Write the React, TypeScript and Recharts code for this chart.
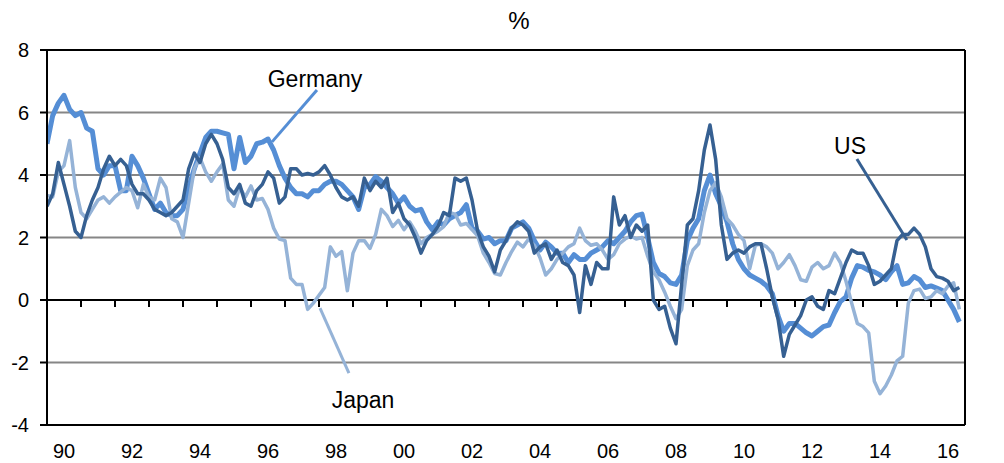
import { Line, LineChart, ReferenceLine, XAxis, YAxis } from 'recharts';

const FONT = '"Liberation Sans", Arial, sans-serif';
const US_COLOR = '#366092';
const GERMANY_COLOR = '#558ED5';
const JAPAN_COLOR = '#95B3D7';

// bimonthly readings, Jan 1990 .. Nov 2016
const startYear = 1990;
const endYear = 2017;
const pointsPerYear = 6;

const usRate = [
  3.0, 3.4, 4.4, 3.7, 3.0, 2.2,
  2.0, 2.7, 3.2, 3.6, 4.2, 4.6,
  4.3, 4.5, 4.3, 3.7, 3.4, 3.4,
  3.2, 2.9, 2.8, 2.7, 2.8, 3.0,
  3.2, 4.2, 4.7, 4.4, 5.0, 5.3,
  5.0, 4.5, 3.6, 3.4, 3.7, 3.1,
  3.0, 3.5, 3.7, 4.1, 3.9, 3.1,
  3.3, 4.2, 4.2, 4.0, 4.05, 4.0,
  4.1, 4.3, 4.0, 3.6, 3.3, 3.2,
  3.3, 3.0, 3.9, 3.5, 3.8, 3.6,
  3.9, 2.8, 3.1, 2.6, 2.4, 2.0,
  1.5, 1.9, 2.1, 2.35, 2.8, 2.7,
  3.9, 3.8, 3.9, 3.2, 2.2, 1.7,
  1.4, 0.9, 1.6, 1.9, 2.3, 2.5,
  2.4, 2.2, 1.5, 1.7, 1.8, 1.3,
  1.6, 1.2, 1.1, 0.8, -0.4, 1.1,
  0.5, 1.2, 1.0, 1.0, 3.3, 2.4,
  2.7, 2.0, 2.4, 2.2, 2.4, 0.0,
  -0.3, -0.2, -0.9, -1.4, 0.5, 2.4,
  2.6, 3.5, 4.8, 5.6, 4.5, 2.4,
  1.3, 1.5, 1.6, 1.5, 1.7, 1.8,
  1.8, 1.0, 0.1, -0.6, -1.8, -1.1,
  -0.8, -0.5, 0.0, 0.1, -0.2, -0.3,
  0.3, 0.2, 0.7, 1.2, 1.6, 1.5,
  1.5, 1.1, 0.5, 0.6, 0.8, 1.0,
  1.9, 2.1, 2.1, 2.3, 2.1, 1.7,
  1.0, 0.75, 0.7, 0.6, 0.3, 0.4,
];

const germanyRate = [
  5.0, 5.9, 6.3, 6.55, 6.1, 5.9,
  6.0, 5.5, 5.4, 4.2, 4.0, 4.3,
  4.3, 3.5, 3.5, 4.6, 4.3, 3.9,
  3.4, 2.9, 3.1, 2.8, 2.7, 2.7,
  2.9, 3.6, 4.2, 4.7, 5.2, 5.4,
  5.4, 5.35, 5.3, 4.2, 5.2, 4.4,
  4.6, 5.0, 5.05, 5.15, 4.8, 4.3,
  3.9, 3.6, 3.4, 3.4, 3.3, 3.5,
  3.5, 3.7, 3.8, 3.8, 3.7, 3.5,
  3.3, 2.9, 3.6, 3.7, 3.95, 3.8,
  3.6, 3.4, 3.1, 3.3, 3.0, 2.85,
  2.9, 2.5, 2.25, 2.5, 2.4, 2.6,
  2.7, 2.8, 3.05, 2.3, 2.2, 1.95,
  2.0, 1.8, 1.9, 1.9, 2.3, 2.4,
  2.5, 2.3, 1.9, 1.6, 1.85, 1.7,
  1.5, 1.5, 1.2, 1.45, 1.3, 1.3,
  1.5, 1.6, 1.7, 1.9, 1.8, 2.0,
  2.2, 2.5, 2.7, 2.75, 2.0, 1.2,
  0.85, 0.75, 0.55, 0.5, 0.8, 1.9,
  2.3, 2.6, 3.5, 4.0, 3.4, 3.0,
  2.5, 1.8, 1.3, 1.0, 0.8, 0.7,
  0.6, 0.45, 0.2, -0.5, -1.0, -0.75,
  -0.75, -0.9, -1.05, -1.15, -1.0, -0.85,
  -0.8, -0.4, -0.05, 0.1, 0.7, 1.1,
  1.05, 0.95, 0.9, 0.8, 0.65, 0.9,
  1.1, 0.5, 0.55, 0.75, 0.65, 0.4,
  0.45, 0.38, 0.3, 0.0, -0.3, -0.7,
];

const japanRate = [
  3.35, 3.3, 4.1, 4.3, 5.1, 3.6,
  2.8, 2.6, 2.9, 3.2, 3.3, 3.1,
  3.3, 3.45, 3.6, 3.5, 2.95, 3.7,
  3.3, 3.2, 3.9, 3.6, 2.6, 2.5,
  2.0, 3.1, 4.2, 4.55, 4.1, 3.8,
  4.1, 4.35, 3.2, 3.0, 3.6, 3.3,
  3.65, 3.2, 3.25, 2.9, 2.3, 1.95,
  1.9, 0.7, 0.5, 0.5, -0.3, -0.1,
  0.15, 0.4, 1.7, 1.4, 1.55, 0.3,
  1.5, 1.9, 1.9, 1.65, 2.1, 2.9,
  2.7, 2.35, 2.55, 2.25, 2.5, 2.2,
  1.8, 2.0, 2.1, 2.2, 2.35, 2.8,
  2.75, 2.4, 2.45, 2.25, 2.05, 1.5,
  1.2, 0.85, 0.8, 1.2, 1.55, 1.85,
  1.7, 1.95, 1.75, 1.35, 0.8, 1.0,
  1.3, 1.5, 1.7, 1.8, 2.3, 1.9,
  1.75, 1.8, 1.6, 1.3, 1.45, 1.8,
  1.95, 2.05, 1.95, 2.0, 1.4, 0.9,
  0.65, 0.25, -0.2, -0.6, -0.3, 1.1,
  1.6, 1.8, 2.8, 3.5, 3.75, 3.3,
  2.6, 2.4, 2.1, 1.9, 1.0, 1.75,
  1.8, 1.7, 1.5, 1.0, 1.2, 1.45,
  1.1, 0.65, 0.6, 1.05, 1.2, 1.0,
  1.1, 1.5, 1.2, 0.6, -0.1, -0.75,
  -0.85, -1.05, -2.6, -3.0, -2.75, -2.4,
  -1.95, -1.8, -0.1, 0.3, 0.35, 0.05,
  0.1, 0.3, 0.2, 0.45, 0.55, -0.3,
];

const labelYears = [1990, 1992, 1994, 1996, 1998, 2000, 2002, 2004, 2006, 2008, 2010, 2012, 2014, 2016];
const boundaryYears = Array.from({ length: 26 }, (_, i) => 1991 + i);
const yTicks = [-4, -2, 0, 2, 4, 6, 8];
const yMin = -4;
const yMax = 8;
const grayLevels = [6, 4, 2, -2];
const blackLevels = [8, 0, -4];

const data = usRate.map((us, i) => ({
  t: startYear + i / pointsPerYear,
  us,
  germany: germanyRate[i],
  japan: japanRate[i],
}));

// chart layout
const WIDTH = 1004;
const HEIGHT = 463;
const MARGIN_TOP = 50;
const LEFT_AXIS_W = 47;
const RIGHT_AXIS_W = 39;
const X_AXIS_H = 38;
const plotLeft = LEFT_AXIS_W;
const plotRight = WIDTH - RIGHT_AXIS_W;
const plotTop = MARGIN_TOP;
const plotBottom = HEIGHT - X_AXIS_H;
const yearToPx = (yr: number) => plotLeft + ((yr - startYear) / (endYear - startYear)) * (plotRight - plotLeft);
const zeroPx = plotTop + (yMax / (yMax - yMin)) * (plotBottom - plotTop);

const tickStyle = { fill: '#000000', fontSize: 20, fontFamily: FONT };

export default function App() {
  return (
    <div
      style={{
        position: 'absolute',
        left: 0,
        top: 0,
        width: WIDTH,
        height: HEIGHT,
        background: '#FFFFFF',
        fontFamily: FONT,
      }}
    >
      <LineChart width={WIDTH} height={HEIGHT} data={data} margin={{ top: MARGIN_TOP, right: 0, bottom: 0, left: 0 }}>
        <XAxis
          dataKey="t"
          type="number"
          domain={[startYear, endYear]}
          ticks={labelYears.map((y) => y + 0.5)}
          tickFormatter={(v: number) => String(Math.floor(v)).slice(2)}
          axisLine={false}
          tickLine={false}
          tickSize={0}
          tickMargin={19}
          height={X_AXIS_H}
          tick={tickStyle}
          interval={0}
          allowDataOverflow
        />
        <YAxis
          yAxisId="left"
          domain={[yMin, yMax]}
          ticks={yTicks}
          width={LEFT_AXIS_W}
          tickSize={7}
          tickMargin={11}
          axisLine={{ stroke: '#000000', strokeWidth: 2 }}
          tickLine={{ stroke: '#000000', strokeWidth: 2 }}
          tick={tickStyle}
          interval={0}
        />
        <YAxis
          yAxisId="right"
          orientation="right"
          domain={[yMin, yMax]}
          ticks={yTicks}
          width={RIGHT_AXIS_W}
          tickSize={7}
          tickMargin={11}
          axisLine={{ stroke: '#000000', strokeWidth: 2 }}
          tickLine={{ stroke: '#000000', strokeWidth: 2 }}
          tick={tickStyle}
          interval={0}
        />
        {grayLevels.map((v) => (
          <ReferenceLine key={`g${v}`} yAxisId="left" y={v} stroke="#868686" strokeWidth={2} />
        ))}
        {blackLevels.map((v) => (
          <ReferenceLine key={`b${v}`} yAxisId="left" y={v} stroke="#000000" strokeWidth={2} />
        ))}
        <Line
          yAxisId="left"
          dataKey="germany"
          type="linear"
          stroke={GERMANY_COLOR}
          strokeWidth={5}
          strokeLinejoin="round"
          dot={false}
          isAnimationActive={false}
        />
        <Line
          yAxisId="left"
          dataKey="japan"
          type="linear"
          stroke={JAPAN_COLOR}
          strokeWidth={3.5}
          strokeLinejoin="round"
          dot={false}
          isAnimationActive={false}
        />
        <Line
          yAxisId="left"
          dataKey="us"
          type="linear"
          stroke={US_COLOR}
          strokeWidth={3.5}
          strokeLinejoin="round"
          dot={false}
          isAnimationActive={false}
        />
        <ReferenceLine
          yAxisId="left"
          segment={[
            { x: 1997.94, y: 6.72 },
            { x: 1996.62, y: 5.06 },
          ]}
          stroke={GERMANY_COLOR}
          strokeWidth={3}
        />
        <ReferenceLine
          yAxisId="left"
          segment={[
            { x: 1998.03, y: -0.26 },
            { x: 1998.88, y: -2.34 },
          ]}
          stroke={JAPAN_COLOR}
          strokeWidth={3}
        />
        <ReferenceLine
          yAxisId="left"
          segment={[
            { x: 2013.82, y: 4.51 },
            { x: 2015.29, y: 1.92 },
          ]}
          stroke={US_COLOR}
          strokeWidth={3}
        />
      </LineChart>
      <svg
        width={WIDTH}
        height={HEIGHT}
        style={{ position: 'absolute', left: 0, top: 0, pointerEvents: 'none' }}
        fontFamily={FONT}
        fill="#000000"
      >
        {/* year boundary ticks hanging under the zero line */}
        {boundaryYears.map((yr) => (
          <line
            key={yr}
            x1={yearToPx(yr)}
            x2={yearToPx(yr)}
            y1={zeroPx}
            y2={zeroPx + 7}
            stroke="#000000"
            strokeWidth={2}
          />
        ))}
        <text x={519} y={29} fontSize={24} textAnchor="middle">%</text>
        <text x={315} y={87} fontSize={23} textAnchor="middle">Germany</text>
        <text x={363} y={408} fontSize={23} textAnchor="middle">Japan</text>
        <text x={850} y={154} fontSize={23} textAnchor="middle">US</text>
      </svg>
    </div>
  );
}
